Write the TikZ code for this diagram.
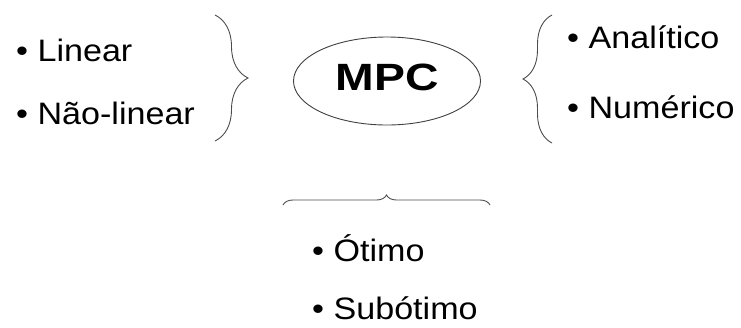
\documentclass[tikz,border=0pt]{standalone}
\usepackage{fontspec}
\setmainfont{Liberation Sans}
\newfontfamily\itemfont[FakeStretch=1.1]{Liberation Sans}
\newfontfamily\hubfont[FakeStretch=1.22]{Liberation Sans}
\usetikzlibrary{shapes.geometric,decorations.pathreplacing}

\tikzstyle{entry}=[anchor=base west, inner sep=0pt, font={\itemfont\fontsize{31}{31}\selectfont}]
\tikzstyle{hub}=[draw=black!75, ellipse, line width=0.9pt, minimum width=187pt, minimum height=88pt, text depth=8pt, font={\hubfont\bfseries\fontsize{38}{38}\selectfont}]
\tikzstyle{bracket}=[draw=black!70, line width=0.9pt, decorate]

\begin{document}
\begin{tikzpicture}[x=1pt,y=-1pt]
    \useasboundingbox (0,0) rectangle (741,327);
    \node [hub] (mpc) at (387,81) {MPC};
    % model
    \node [entry] (lin) at (16,61) {• Linear};
    \node [entry] (nlin) at (16,124) {• Não-linear};
    % solution
    \node [entry] (anal) at (567,48) {• Analítico};
    \node [entry] (num) at (567,118) {• Numérico};
    % optimality
    \node [entry] (otim) at (312,261) {• Ótimo};
    \node [entry] (sub) at (312,319) {• Subótimo};
    % braces
    \draw [bracket, decoration={brace,amplitude=33pt}] (215,15) -- (215,141);
    \draw [bracket, decoration={brace,amplitude=29pt}] (552,143) -- (552,15);
    \draw [bracket, decoration={brace,amplitude=10pt}] (283,205) -- (490,205);
\end{tikzpicture}
\end{document}
